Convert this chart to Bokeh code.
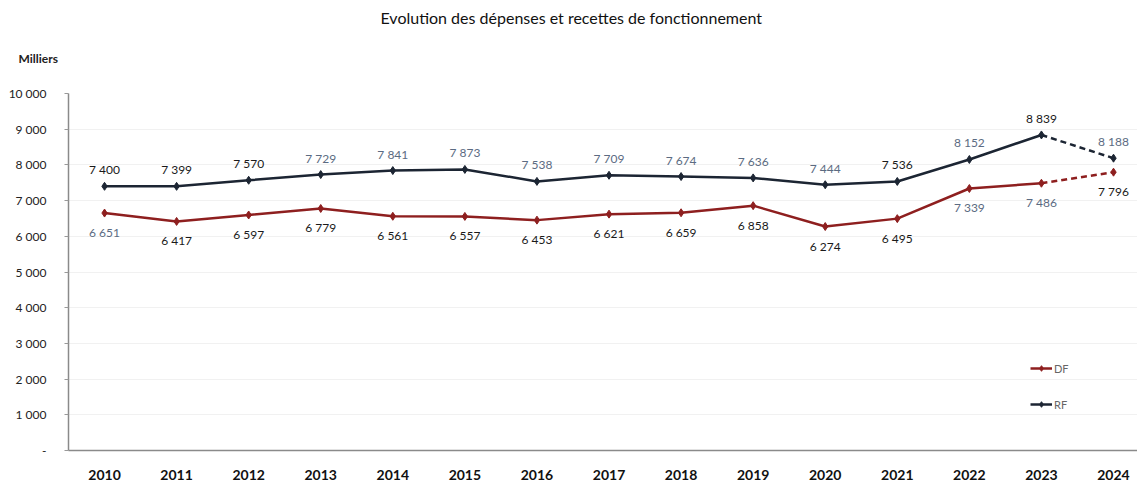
from bokeh.plotting import figure
from bokeh.models import Range1d, FixedTicker, Title, ColumnDataSource, Legend, LegendItem
from bokeh.embed import file_html
from bokeh.resources import INLINE
from bokeh.core.properties import value

# ---- data ----
years = [2010, 2011, 2012, 2013, 2014, 2015, 2016, 2017, 2018, 2019, 2020, 2021, 2022, 2023, 2024]
rf = [7400, 7399, 7570, 7729, 7841, 7873, 7538, 7709, 7674, 7636, 7444, 7536, 8152, 8839, 8188]
df = [6651, 6417, 6597, 6779, 6561, 6557, 6453, 6621, 6659, 6858, 6274, 6495, 7339, 7486, 7796]
y_ticks = [0, 1000, 2000, 3000, 4000, 5000, 6000, 7000, 8000, 9000, 10000]
y_tick_labels = ["-", "1 000", "2 000", "3 000", "4 000", "5 000", "6 000", "7 000", "8 000", "9 000", "10 000"]
title_text = "Evolution des dépenses et recettes de fonctionnement"
unit_text = "Milliers"

# ---- styles ----
RF_COLOR = "#1c2533"
DF_COLOR = "#8e1f1f"
BLK = "#1a1a1a"
GRY = "#5b6b82"
rf_label_colors = [BLK, BLK, BLK, GRY, GRY, GRY, GRY, GRY, GRY, GRY, GRY, BLK, GRY, BLK, GRY]
df_label_colors = [GRY, BLK, BLK, BLK, BLK, BLK, BLK, BLK, BLK, BLK, BLK, BLK, GRY, GRY, BLK]
FONT = "Lato"


def fmt(v):
    return f"{v:,}".replace(",", " ")


p = figure(width=1137, height=483, output_backend="svg", toolbar_location=None,
           x_range=Range1d(2009.5, 2024.333), y_range=Range1d(0, 10000),
           min_border_left=68, min_border_right=0, min_border_top=93, min_border_bottom=33)
p.outline_line_color = None
p.background_fill_color = "white"
p.border_fill_color = "white"

# titles (spacer nearest the frame, then unit, then main title)
p.title.text = title_text
p.title.align = "left"
p.title.text_font = FONT
p.title.text_font_size = "16px"
p.title.text_font_style = "normal"
p.title.text_color = "#111111"
p.title.offset = 312
p.title.standoff = 9
p.add_layout(Title(text=" ", text_font=FONT, text_font_size="1px", standoff=7), "above")
p.add_layout(Title(text=unit_text, align="left", offset=-50, text_font=FONT,
                   text_font_size="12px", text_font_style="bold", text_color="#222222",
                   standoff=35), "above")

# grid
p.xgrid.visible = False
p.ygrid.ticker = FixedTicker(ticks=y_ticks)
p.ygrid.grid_line_color = "#f1f1f1"
p.ygrid.grid_line_width = 1

# axes
p.xaxis.ticker = FixedTicker(ticks=years)
p.xaxis.major_label_text_font = FONT
p.xaxis.major_label_text_font_style = "bold"
p.xaxis.major_label_text_font_size = "14px"
p.xaxis.major_label_text_color = "#111111"
p.xaxis.major_tick_line_color = None
p.xaxis.minor_tick_line_color = None
p.xaxis.axis_line_color = "#8a8a8a"
p.xaxis.axis_line_width = 1.5
p.xaxis.major_label_standoff = 13

p.yaxis.ticker = FixedTicker(ticks=y_ticks)
p.yaxis.major_label_overrides = {t: lab for t, lab in zip(y_ticks, y_tick_labels)}
p.yaxis.major_label_text_font = FONT
p.yaxis.major_label_text_font_size = "12px"
p.yaxis.major_label_text_color = "#222222"
p.yaxis.major_tick_line_color = "#999999"
p.yaxis.major_tick_out = 4
p.yaxis.major_tick_in = 0
p.yaxis.minor_tick_line_color = None
p.yaxis.axis_line_color = "#8a8a8a"
p.yaxis.axis_line_width = 1.5
p.yaxis.major_label_standoff = 18

# lines
rf_line = p.line(years[:-1], rf[:-1], line_color=RF_COLOR, line_width=2.5)
p.line(years[-2:], rf[-2:], line_color=RF_COLOR, line_width=2.5, line_dash="6 4")
rf_pts = p.scatter(years, rf, marker="diamond", size=8, fill_color=RF_COLOR, line_color=RF_COLOR)

df_line = p.line(years[:-1], df[:-1], line_color=DF_COLOR, line_width=2.5)
p.line(years[-2:], df[-2:], line_color=DF_COLOR, line_width=2.5, line_dash="6 4")
df_pts = p.scatter(years, df, marker="diamond", size=8, fill_color=DF_COLOR, line_color=DF_COLOR)

# data labels
rf_src = ColumnDataSource(dict(x=years, y=rf, t=[fmt(v) for v in rf], c=rf_label_colors))
df_src = ColumnDataSource(dict(x=years, y=df, t=[fmt(v) for v in df], c=df_label_colors))
p.text(x="x", y="y", text="t", source=rf_src, text_color="c", text_align="center",
       text_baseline="bottom", y_offset=-9, text_font=value(FONT), text_font_size="12px")
p.text(x="x", y="y", text="t", source=df_src, text_color="c", text_align="center",
       text_baseline="top", y_offset=12, text_font=value(FONT), text_font_size="12px")

# legend
legend = Legend(items=[LegendItem(label="DF", renderers=[df_line, df_pts]),
                       LegendItem(label="RF", renderers=[rf_line, rf_pts])],
                location=(962, 39), orientation="vertical",
                glyph_width=22, glyph_height=14, label_height=14, spacing=22,
                padding=0, margin=0, label_standoff=2,
                label_text_font=FONT, label_text_font_size="11px", label_text_color="#666666",
                background_fill_alpha=0, border_line_color=None)
p.add_layout(legend, "center")

open("out.html", "w").write(file_html(p, INLINE))
